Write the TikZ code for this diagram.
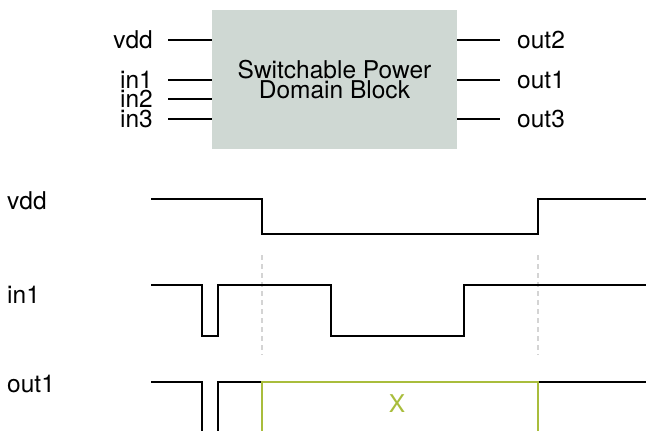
\documentclass[tikz,border=0pt]{standalone}
\usepackage{fontspec}
\setmainfont{TeX Gyre Heros}
\usetikzlibrary{positioning,calc}
\definecolor{blockfill}{HTML}{CFD8D3}
\definecolor{guide}{HTML}{D4D4D4}
\definecolor{xgreen}{HTML}{A9BD3C}
\tikzset{sig/.style={draw=black,line width=2.4pt},
 pinlabel/.style={inner sep=0pt,font=\fontsize{24.5}{20}\selectfont},
 guideline/.style={draw=guide,line width=2.2pt,dash pattern=on 5pt off 4pt},
 unknown/.style={draw=xgreen,line width=2.4pt}}
\begin{document}
\begin{tikzpicture}[x=1pt,y=-1pt]
\useasboundingbox (0,0) rectangle (646,431);
\node[fill=blockfill,minimum width=245pt,minimum height=139pt,inner sep=0pt,align=center,
 font=\fontsize{24.5}{20}\selectfont] (blk) at (334.5,79.5) {Switchable Power\\Domain Block};
\node[pinlabel,anchor=east] (lvdd) at (153,40) {vdd};
\node[pinlabel,anchor=east] (lin1) at (153,80) {in1};
\node[pinlabel,anchor=east] (lin2) at (153,99) {in2};
\node[pinlabel,anchor=east] (lin3) at (153,119) {in3};
\node[pinlabel,anchor=west] (lout2) at (517,40) {out2};
\node[pinlabel,anchor=west] (lout1) at (517,80) {out1};
\node[pinlabel,anchor=west] (lout3) at (517,119) {out3};
\foreach \p in {lvdd,lin1,lin2,lin3}
 \draw[sig] ([xshift=15pt]\p.east) -- (\p.east -| blk.west);
\foreach \p in {lout2,lout1,lout3}
 \draw[sig] (\p.west -| blk.east) -- ([xshift=-17pt]\p.west);
\node[pinlabel,anchor=west] (tvdd) at (7,201) {vdd};
\node[pinlabel,anchor=west] (tin1) at (7,295) {in1};
\node[pinlabel,anchor=west] (tout1) at (7,384) {out1};
\coordinate (off) at (262,0);
\coordinate (on) at (538,0);
\draw[guideline] (off |- 0,255) -- (off |- 0,355);
\draw[guideline] (on |- 0,255) -- (on |- 0,355);
\draw[sig] (151,199) -| (off |- 0,234) -| (on |- 0,199) -- (646,199);
\draw[sig] (151,285) -| (202,336) -| (218,285) -| (331,336) -| (464,285) -- (646,285);
\draw[sig] (151,382) -| (202,431);
\draw[sig] (218,431) |- (off |- 0,382);
\draw[sig] (on |- 0,382) -- (646,382);
\draw[unknown] (off |- 0,431) |- (on |- 0,382) -- (on |- 0,431);
\node[pinlabel,text=xgreen] (xval) at (397,404) {X};
\end{tikzpicture}
\end{document}
